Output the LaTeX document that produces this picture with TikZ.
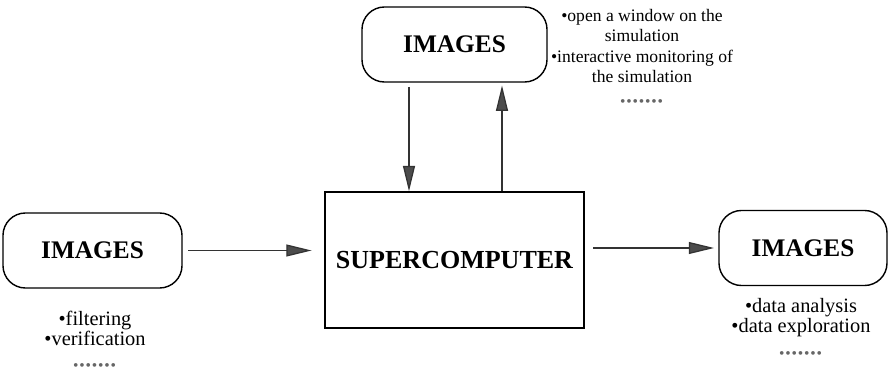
\documentclass[tikz,border=0pt]{standalone}
\usepackage{fontspec}
\setmainfont{Liberation Serif}
\usetikzlibrary{arrows.meta,calc}

\tikzset{
    imgbox/.style={draw, line width=1pt, rounded corners=16pt, minimum height=1.875cm,
        font=\fontsize{18}{20}\selectfont\bfseries},
    flow/.style={line width=0.9pt, draw=black!80, -{Triangle[length=18pt,width=8.5pt,fill=black!70]}},
    notes/.style={align=center, font=\fontsize{14.5}{14.5}\selectfont},
}
\newcommand{\moredots}[1]{\\[#1]{\fontsize{11}{11}\selectfont\color{black!60}%
    \foreach \k in {1,...,7}{\textbullet\kern0.6pt}}}

\begin{document}
\begin{tikzpicture}[x=0.025cm, y=-0.025cm]
    \useasboundingbox (0,0) rectangle (890,373);

    % Central machine
    \node[draw, line width=1pt, minimum width=6.475cm, minimum height=3.4cm,
        font=\fontsize{18.5}{20}\selectfont\bfseries] (super) at (454.5,260) {SUPERCOMPUTER};

    % Image boxes
    \node[imgbox, minimum width=4.475cm] (left) at (92.5,250.5) {IMAGES};
    \node[imgbox, minimum width=4.625cm] (top) at (454.5,44.5) {IMAGES};
    \node[imgbox, minimum width=4.2cm] (right) at (803,248) {IMAGES};

    % Flows
    \draw[flow, shorten <=4pt, shorten >=9pt] (left.east) -- (left.east -| super.west);
    \draw[flow, shorten <=6pt, shorten >=3pt] (super.east |- right.west) -- (right.west);
    \draw[flow, shorten <=3pt] ($(top.south)+(-45.5,0)$) -- ($(super.north)+(-45.5,0)$);
    \draw[flow, shorten >=2pt] ($(super.north)+(47.5,0)$) -- ($(top.south)+(47.5,0)$);

    % Notes
    \node[notes, anchor=north, font=\fontsize{12.5}{14.6}\selectfont] (topnote) at (642,4)
        {\textbullet open a window on the\\ simulation\\
        \textbullet interactive monitoring of\\ the simulation\moredots{2pt}};
    \node[notes, anchor=north] (leftnote) at (95,306) {\textbullet filtering\\ \textbullet verification\moredots{3pt}};
    \node[notes, anchor=north] (rightnote) at (801,293) {\textbullet data analysis\\ \textbullet data exploration\moredots{4pt}};
\end{tikzpicture}
\end{document}
